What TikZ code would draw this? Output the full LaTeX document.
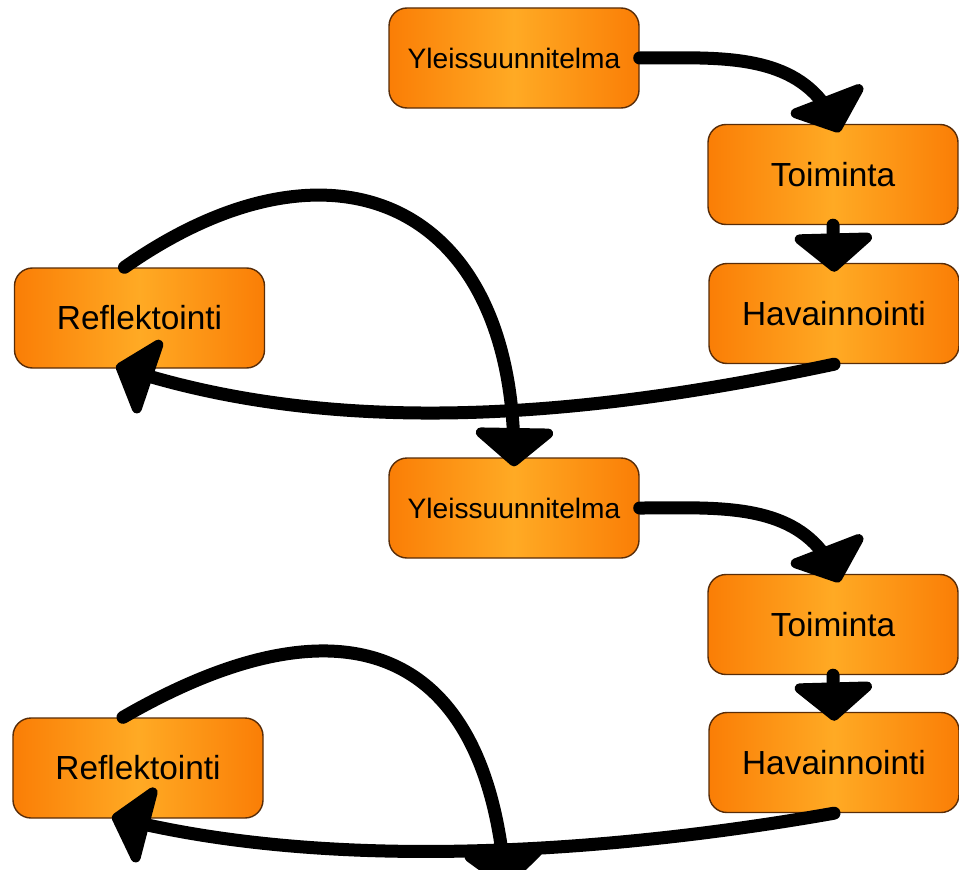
\documentclass[tikz,border=0pt]{standalone}
\usepackage{fontspec}
\setmainfont{Liberation Sans}
\usetikzlibrary{
  % big rounded arrow heads
  arrows.meta,%
  bending,%
  positioning
}
\definecolor{boxedge}{RGB}{250,126,6}
\definecolor{boxmid}{RGB}{255,170,36}
\definecolor{boxline}{RGB}{88,44,8}
\tikzset{>={Triangle[length=0.8cm,width=1.85cm,round,flex=0]}}
\tikzset{phase/.style={rectangle, rounded corners=0.36cm, draw=boxline,
    line width=0.8pt, left color=boxedge, right color=boxedge,
    middle color=boxmid, minimum width=5cm, minimum height=2cm,
    inner sep=0pt, font=\fontsize{19}{23}\selectfont}}
\tikzset{plan/.style={phase, font=\fontsize{16}{19}\selectfont}}
\tikzset{flow/.style={->, line width=0.26cm, line cap=round,
    shorten >=-0.18cm}}

\begin{document}
\begin{tikzpicture}
  \useasboundingbox (0,0) rectangle (19.18,-17.38);
  \clip (0,0) rectangle (19.18,-17.38);
  % first round
  \node[plan] (yleis1) at (10.28,-1.16) {Yleissuunnitelma};
  \node[phase] (toim1) at (16.66,-3.49) {Toiminta};
  \node[phase] (hav1) at (16.68,-6.27) {Havainnointi};
  \node[phase] (refl1) at (2.79,-6.36) {Reflektointi};
  % second round
  \node[plan] (yleis2) at (10.28,-10.16) {Yleissuunnitelma};
  \node[phase] (toim2) at (16.66,-12.49) {Toiminta};
  \node[phase] (hav2) at (16.68,-15.25) {Havainnointi};
  \node[phase] (refl2) at (2.76,-15.36) {Reflektointi};
  \coordinate (yleis3) at (10.1,-17.58);

  \draw[flow] (yleis1.east) to[out=0,in=115]
    ([xshift=0.05cm]toim1.north);
  \draw[flow] (toim1.south) -- (hav1.north);
  \draw[flow] (hav1.south) to[out=192,in=-18,looseness=0.85]
    ([xshift=-0.3cm]refl1.south);
  \draw[flow] ([xshift=-0.3cm]refl1.north) to[out=35,in=90,looseness=1.5]
    (yleis2.north);

  \draw[flow] (yleis2.east) to[out=0,in=115]
    ([xshift=0.05cm]toim2.north);
  \draw[flow] (toim2.south) -- (hav2.north);
  \draw[flow] (hav2.south) to[out=190,in=-14,looseness=0.8]
    ([xshift=-0.35cm]refl2.south);
  \draw[flow] ([xshift=-0.3cm]refl2.north) to[out=30,in=95,looseness=1.5]
    (yleis3);
\end{tikzpicture}
\end{document}
